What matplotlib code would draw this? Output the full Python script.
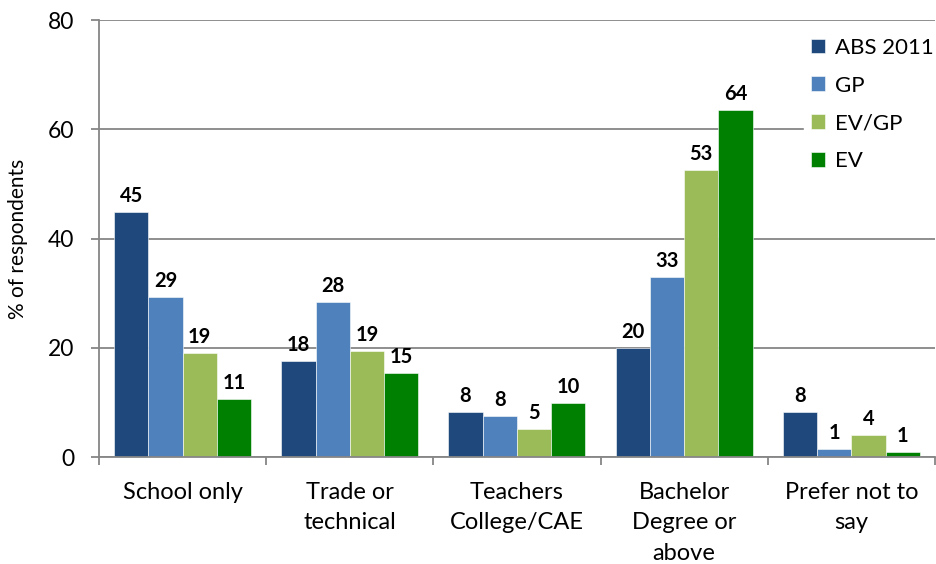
import numpy as np
import matplotlib.pyplot as plt

plt.rcParams['font.family'] = ['Lato', 'DejaVu Sans']

categories = ['School only', 'Trade or\ntechnical', 'Teachers\nCollege/CAE',
              'Bachelor\nDegree or\nabove', 'Prefer not to\nsay']
series = ['ABS 2011', 'GP', 'EV/GP', 'EV']
abs2011 = [44.9, 17.6, 8.2, 20.0, 8.2]
gp = [29.3, 28.4, 7.5, 33.0, 1.4]
evgp = [19.0, 19.4, 5.1, 52.6, 4.0]
ev = [10.6, 15.3, 9.9, 63.6, 0.9]
labels_abs = [45, 18, 8, 20, 8]
labels_gp = [29, 28, 8, 33, 1]
labels_evgp = [19, 19, 5, 53, 4]
labels_ev = [11, 15, 10, 64, 1]

colors = ['#1F497D', '#4F81BD', '#9BBB59', '#008000']

fig = plt.figure(figsize=(9.36, 5.64), dpi=100)
ax = fig.add_axes([0.1058, 0.1897, 0.893, 0.7748])

x = np.arange(len(categories))
barWidth = 0.205
data = [abs2011, gp, evgp, ev]
labs = [labels_abs, labels_gp, labels_evgp, labels_ev]
for i, (vals, lab) in enumerate(zip(data, labs)):
    pos = x + (i - 1.5) * barWidth
    ax.bar(pos, vals, width=barWidth, color=colors[i], edgecolor='white',
           linewidth=0.4, label=series[i], zorder=3)
    for p, v, t in zip(pos, vals, lab):
        ax.text(p, v + 1.1, str(t), ha='center', va='bottom',
                fontsize=14.5, fontweight='bold', zorder=4)

ax.set_xlim(-0.5, 4.5)
ax.set_ylim(0, 80)
ax.set_yticks([0, 20, 40, 60, 80])
ax.yaxis.grid(True, color='#868686', linewidth=1.3, zorder=0)
ax.tick_params(axis='y', labelsize=16.5, length=6, width=1.3, color='#868686', pad=12)
ax.set_ylabel('% of respondents', fontsize=15, labelpad=14)

ax.set_xticks(np.arange(-0.5, 5, 1))
ax.set_xticklabels([])
ax.set_xticks(x, minor=True)
ax.set_xticklabels(categories, minor=True, fontsize=17, linespacing=1.55)
ax.tick_params(axis='x', which='major', length=6, width=1.3, color='#868686')
ax.tick_params(axis='x', which='minor', length=0, pad=18)

for s in ['top', 'right']:
    ax.spines[s].set_visible(False)
for s in ['left', 'bottom']:
    ax.spines[s].set_color('#868686')
    ax.spines[s].set_linewidth(1.3)
    ax.spines[s].set_zorder(5)

leg = ax.legend(loc='upper right', bbox_to_anchor=(1.02, 1.0), frameon=True,
                fancybox=False, edgecolor='white', framealpha=1,
                fontsize=16, handlelength=0.65, handleheight=0.65,
                handletextpad=0.45, labelspacing=0.8, borderpad=0.3)
leg.set_zorder(6)

plt.savefig('out.png', dpi=100)
